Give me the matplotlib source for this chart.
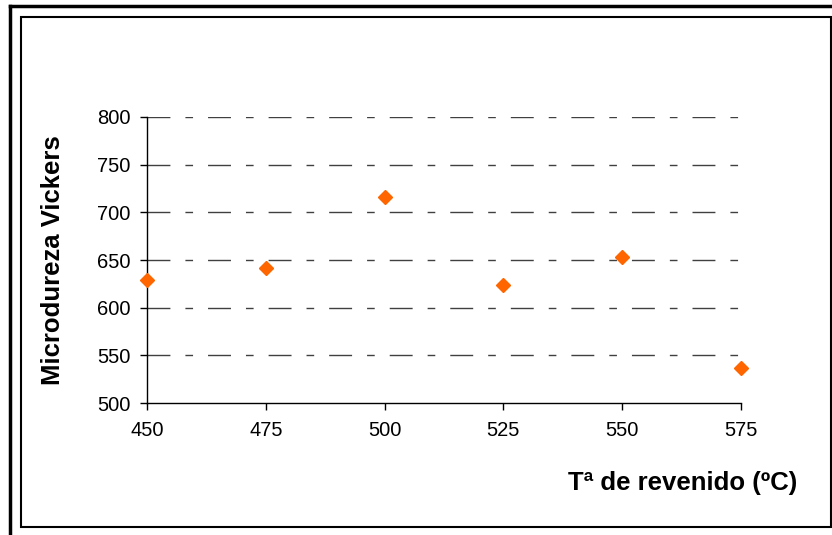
import matplotlib.pyplot as plt
from matplotlib.lines import Line2D
from matplotlib.patches import Rectangle

plt.rcParams['font.family'] = ['Liberation Sans', 'DejaVu Sans']

# data
temps = [450, 475, 500, 525, 550, 575]
hardness = [629, 642, 716, 624, 653, 537]
x_ticks = [450, 475, 500, 525, 550, 575]
y_ticks = [500, 550, 600, 650, 700, 750, 800]

fig = plt.figure(figsize=(8.32, 5.35), dpi=100)
ax = fig.add_axes([147/832, 1 - 403/535, (741 - 147)/832, (403 - 117)/535])

# dash-dot grid like Excel
for y in y_ticks[1:]:
    ax.axhline(y, color='#404040', linewidth=1.0, dashes=(16.5, 10.8, 5.5, 10.8),
               zorder=1)

ax.plot(temps, hardness, linestyle='none', marker='D', markersize=7,
        color='#FF6600', markeredgecolor='#FF6600', clip_on=False, zorder=3)

ax.set_xlim(450, 575)
ax.set_ylim(500, 800)
ax.set_xticks(x_ticks)
ax.set_yticks(y_ticks)
ax.tick_params(axis='both', direction='out', length=5, width=1,
               labelsize=14.5, color='black')
ax.tick_params(axis='x', pad=8)
ax.tick_params(axis='y', pad=7)

for s in ['top', 'right']:
    ax.spines[s].set_visible(False)
for s in ['left', 'bottom']:
    ax.spines[s].set_linewidth(1)
    ax.spines[s].set_color('black')

fig.text(797/832, 1 - 483/535, 'Tª de revenido (ºC)', ha='right', va='center',
         fontsize=18.5, fontweight='bold')
fig.text(53/832, 1 - 260/535, 'Microdureza Vickers', ha='center', va='center',
         rotation=90, fontsize=18.5, fontweight='bold')

# frames around the chart
fig.patches.append(Rectangle((21/832, 1 - 527/535), (831 - 21)/832, (527 - 17)/535,
                             transform=fig.transFigure, fill=False,
                             edgecolor='black', linewidth=1.5))
fig.lines.append(Line2D([9.5/832, 9.5/832], [0, 1 - 6/535],
                        transform=fig.transFigure, color='black', linewidth=2.5))
fig.lines.append(Line2D([9.5/832, 1], [1 - 6/535, 1 - 6/535],
                        transform=fig.transFigure, color='black', linewidth=2.5))

plt.savefig('out.png', dpi=100)
